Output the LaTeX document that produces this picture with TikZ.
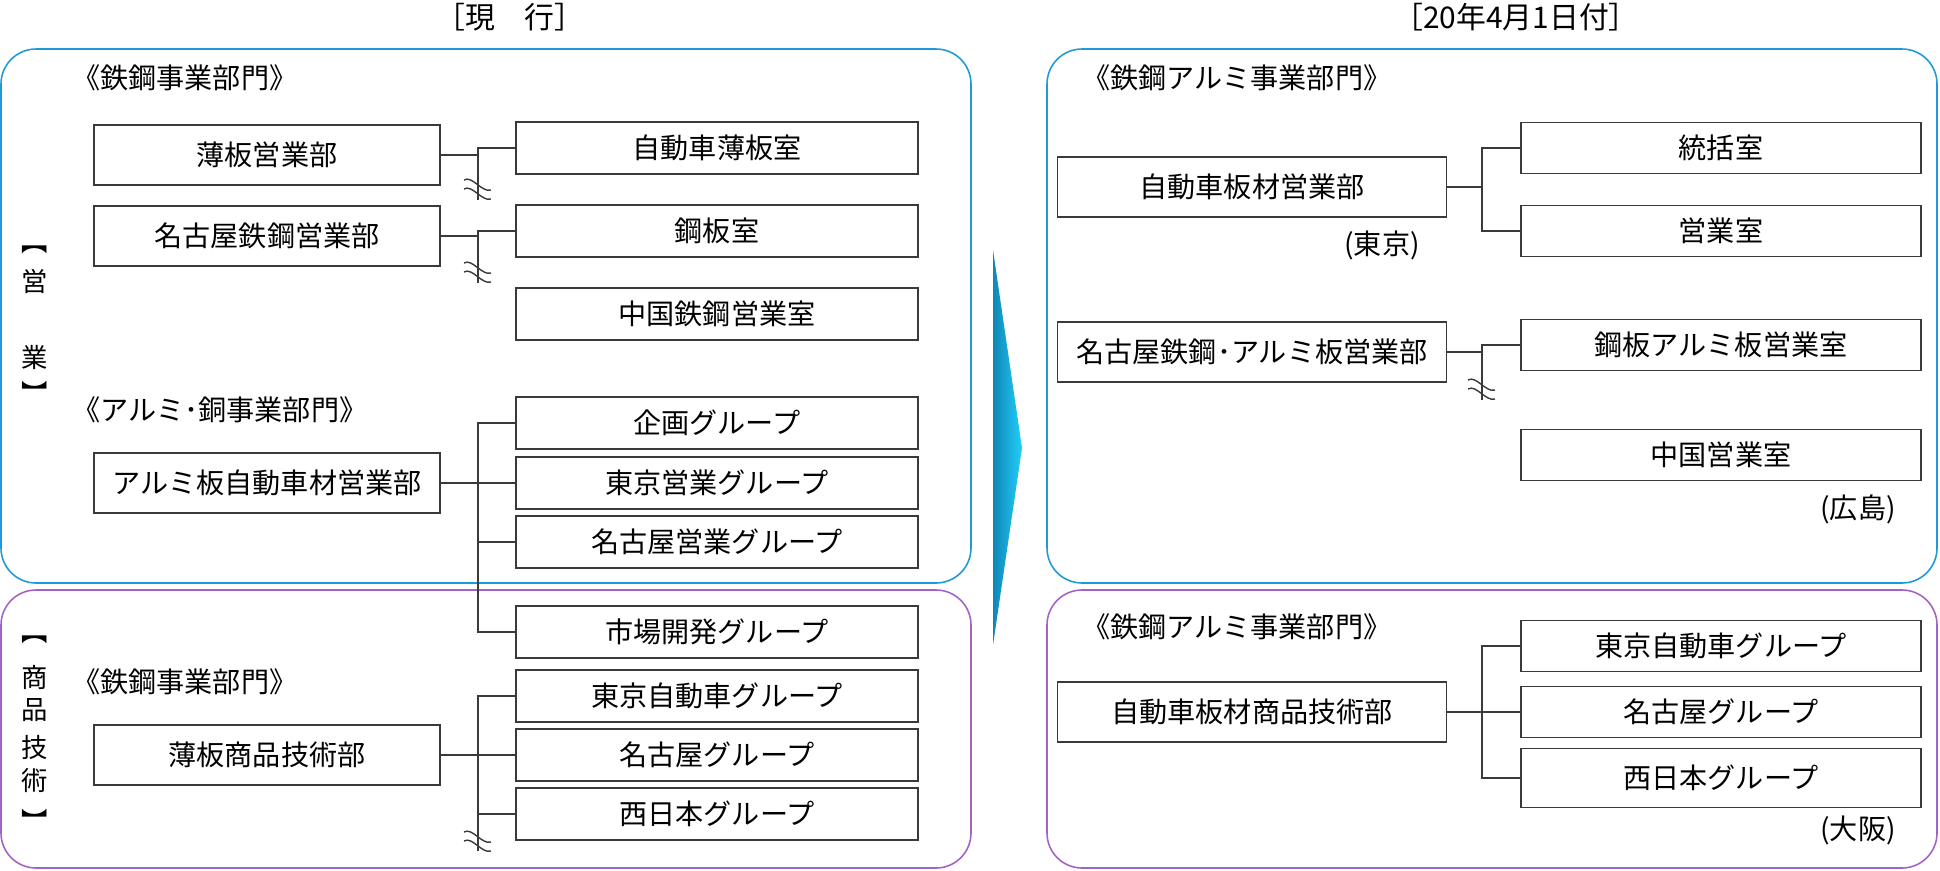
\documentclass[tikz,border=0pt]{standalone}
\usepackage{fontspec}
\setmainfont{Noto Sans CJK JP}
\usepackage{xcolor}
\usepackage{tikz}
\usetikzlibrary{calc}
\definecolor{blueline}{HTML}{1E9AD6}
\definecolor{purpleline}{HTML}{A363C6}
\definecolor{grayline}{HTML}{3A3A3A}
\definecolor{arrowdark}{HTML}{0F86B6}
\definecolor{arrowcyan}{HTML}{22CFFA}
\tikzset{
  frame/.style={draw=#1,line width=0.9pt,rounded corners=0.7cm},
  box/.style={draw=grayline,line width=0.9pt,inner sep=0pt,font=\fontsize{16pt}{18pt}\selectfont},
  oldbu/.style={box,minimum width=6.92cm,minimum height=1.19cm},
  oldgr/.style={box,minimum width=8.04cm,minimum height=1.03cm},
  newbu/.style={box,minimum width=7.78cm,minimum height=1.2cm},
  newgr/.style={box,minimum width=8cm,minimum height=1.02cm},
  ln/.style={draw=grayline,line width=0.8pt},
  sect/.style={anchor=west,inner sep=0pt,font=\fontsize{16pt}{18pt}\selectfont},
  vlab/.style={inner sep=0pt,font=\fontsize{15pt}{17pt}\selectfont},
  title/.style={font=\fontsize{17pt}{19pt}\selectfont},
  note/.style={inner sep=0pt,font=\fontsize{16pt}{18pt}\selectfont}
}
\newcommand{\brkmark}[1]{%
  \begin{scope}[shift={(#1)}]
    \draw[ln] (-14,-9) .. controls (-6,-14) and (4,4) .. (13,1);
    \draw[ln] (-14,0) .. controls (-6,-5) and (4,13) .. (13,10);
  \end{scope}}

\begin{document}
\begin{tikzpicture}[x=0.02cm,y=-0.02cm]
\useasboundingbox (0,0) rectangle (1940,870);
% frames
\draw[frame=blueline] (1,49) rectangle (971,583);
\draw[frame=purpleline] (1,590) rectangle (971,868);
\draw[frame=blueline] (1047,49) rectangle (1937,583);
\draw[frame=purpleline] (1047,590) rectangle (1937,868);
\node[title] (tNow) at (510,17) {［現　行］};
\node[title] (tNew) at (1516,17) {［20年4月1日付］};
\shade[left color=arrowdark,right color=arrowcyan] (993,250) -- (1022,448) -- (993,645) -- cycle;
\coordinate (jL) at (478,0); \coordinate (jR) at (1482,0);

% current
\node[sect] (secSteel) at (72,78) {《鉄鋼事業部門》};
\node[sect] (secAlCu) at (72,410) {《アルミ･銅事業部門》};
\node[sect] (secSteel2) at (72,682) {《鉄鋼事業部門》};
\foreach \ch/\yy [count=\i] in {︻/250,営/281,業/357,︼/392} \node[vlab] (eig\i) at (35,\yy) {\ch};
\foreach \ch/\yy [count=\i] in {︻/640,商/677,品/710,技/747,術/780,︼/820} \node[vlab] (sho\i) at (35,\yy) {\ch};
\node[oldbu] (hakuBu) at (267,155) {薄板営業部};
\node[oldbu] (nagoyaBu) at (267,236) {名古屋鉄鋼営業部};
\node[oldbu] (alumiBu) at (267,483) {アルミ板自動車材営業部};
\node[oldbu] (shohinBu) at (267,755) {薄板商品技術部};
\node[oldgr] (jidoShitsu) at (717,148) {自動車薄板室};
\node[oldgr] (kohanShitsu) at (717,231) {鋼板室};
\node[oldgr] (chugokuShitsu) at (717,314) {中国鉄鋼営業室};
\node[oldgr] (kikakuGr) at (717,423) {企画グループ};
\node[oldgr] (tokyoGr) at (717,483) {東京営業グループ};
\node[oldgr] (nagoyaGr) at (717,542) {名古屋営業グループ};
\node[oldgr] (shijoGr) at (717,632) {市場開発グループ};
\node[oldgr] (tokyoJGr) at (717,696) {東京自動車グループ};
\node[oldgr] (nagoyaJGr) at (717,755) {名古屋グループ};
\node[oldgr] (nishiGr) at (717,814) {西日本グループ};
\coordinate (brk1) at (478,200); \coordinate (brk2) at (478,283); \coordinate (brk3) at (478,851);
\draw[ln] (hakuBu.east) -- (hakuBu.east -| jL);
\draw[ln] (jidoShitsu.west) -| (brk1);
\brkmark{478,189}
\draw[ln] (nagoyaBu.east) -- (nagoyaBu.east -| jL);
\draw[ln] (kohanShitsu.west) -| (brk2);
\brkmark{478,272}
\draw[ln] (kikakuGr.west) -| (shijoGr.west -| jL) -- (shijoGr.west);
\draw[ln] (alumiBu.east) -- (tokyoGr.west);
\draw[ln] (nagoyaGr.west) -- (nagoyaGr.west -| jL);
\draw[ln] (tokyoJGr.west) -| (brk3);
\draw[ln] (shohinBu.east) -- (nagoyaJGr.west);
\draw[ln] (nishiGr.west) -- (nishiGr.west -| jL);
\brkmark{478,841}

% 20.4.1
\node[sect] (secNew) at (1082,78) {《鉄鋼アルミ事業部門》};
\node[sect] (secNew2) at (1082,627) {《鉄鋼アルミ事業部門》};
\node[newbu] (jidoBu) at (1252,187) {自動車板材営業部};
\node[newbu] (nagoyaAlBu) at (1252,352) {名古屋鉄鋼･アルミ板営業部};
\node[newbu] (jidoShohinBu) at (1252,712) {自動車板材商品技術部};
\node[newgr] (tokatsu) at (1721,148) {統括室};
\node[newgr] (eigyo) at (1721,231) {営業室};
\node[newgr] (kohanAl) at (1721,345) {鋼板アルミ板営業室};
\node[newgr] (chugoku) at (1721,455) {中国営業室};
\node[newgr] (tokyoJ2) at (1721,646) {東京自動車グループ};
\node[newgr] (nagoya2) at (1721,712) {名古屋グループ};
\node[newgr,minimum height=1.18cm] (nishi2) at (1721,778) {西日本グループ};
\node[note] (tokyoNote) at (1382,245) {(東京)};
\node[note] (hiroNote) at (1858,509) {(広島)};
\node[note] (osakaNote) at (1858,830) {(大阪)};
\coordinate (brk4) at (1482,400);
\draw[ln] (jidoBu.east) -- (jidoBu.east -| jR);
\draw[ln] (tokatsu.west) -| (eigyo.west -| jR) -- (eigyo.west);
\draw[ln] (nagoyaAlBu.east) -- (nagoyaAlBu.east -| jR);
\draw[ln] (kohanAl.west) -| (brk4);
\brkmark{1482,389}
\draw[ln] (tokyoJ2.west) -| (nishi2.west -| jR) -- (nishi2.west);
\draw[ln] (jidoShohinBu.east) -- (nagoya2.west);
\end{tikzpicture}
\end{document}
